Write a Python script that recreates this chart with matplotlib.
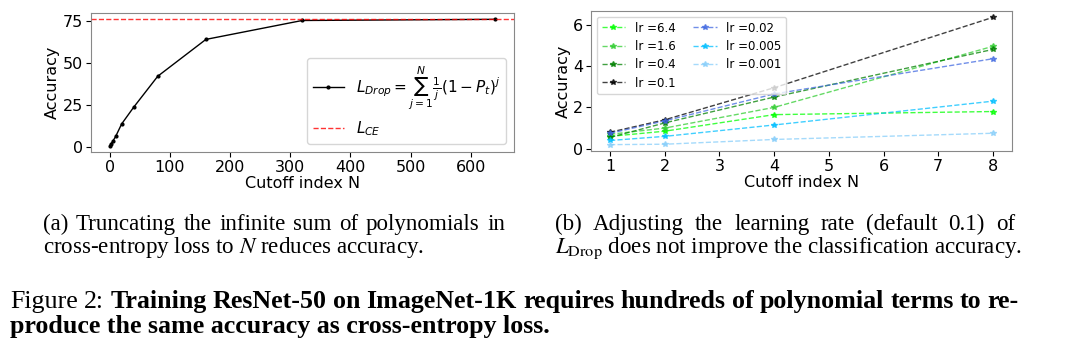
import numpy as np
import matplotlib
matplotlib.use("Agg")
import matplotlib.pyplot as plt

# (a) truncated sum
cutoff_n = [1, 2, 5, 10, 20, 40, 80, 160, 320, 640]
acc_drop = [0.5, 1.5, 3.0, 6.0, 13.5, 23.5, 42.0, 64.0, 75.3, 76.0]
acc_ce = 76.1

# (b) learning rates
cutoff_b = [1, 2, 4, 8]
lr_labels = ['lr =6.4', 'lr =1.6', 'lr =0.4', 'lr =0.1', 'lr =0.02', 'lr =0.005', 'lr =0.001']
lr_acc = [
    [0.6, 0.85, 1.65, 1.8],
    [0.7, 1.0, 2.0, 4.95],
    [0.55, 1.25, 2.5, 4.8],
    [0.8, 1.4, 2.95, 6.35],
    [0.75, 1.35, 2.65, 4.35],
    [0.4, 0.6, 1.15, 2.3],
    [0.2, 0.22, 0.45, 0.75],
]
lr_colors = ['lime', 'limegreen', 'green', 'black', 'royalblue', 'deepskyblue', 'lightskyblue']

fig = plt.figure(figsize=(10.8, 3.54), dpi=100)
W, H = 1080, 354
renderer = fig.canvas.get_renderer()

def box(l, t, r, b):
    return [l / W, 1 - b / H, (r - l) / W, (b - t) / H]

ax1 = fig.add_axes(box(91, 13, 514, 152))
ax1.plot(cutoff_n, acc_drop, color='black', marker='.', markersize=4, linewidth=1,
         label=r'$L_{Drop} = \sum_{j=1}^{N} \frac{1}{j}(1-P_t)^j$')
ax1.axhline(acc_ce, color='red', linestyle='--', linewidth=1, alpha=0.8, label=r'$L_{CE}$')
ax1.set_yticks([0, 25, 50, 75])
ax1.set_xlabel('Cutoff index N', fontsize=11.5, labelpad=1)
ax1.set_ylabel('Accuracy', fontsize=11.5, labelpad=2)
ax1.tick_params(labelsize=11.5, pad=2)
ax1.legend(loc='lower right', fontsize=11, borderaxespad=0.5)
for s in ax1.spines.values():
    s.set_color('#888888')

ax2 = fig.add_axes(box(591, 11, 1012, 151))
for vals, lab, c in zip(lr_acc, lr_labels, lr_colors):
    ax2.plot(cutoff_b, vals, linestyle='--', marker='*', markersize=4, linewidth=1,
             color=c, alpha=0.75, label=lab)
ax2.set_yticks([0, 2, 4, 6])
ax2.set_xlabel('Cutoff index N', fontsize=11.5, labelpad=1)
ax2.set_ylabel('Accuracy', fontsize=11.5, labelpad=2)
ax2.tick_params(labelsize=11.5, pad=2)
ax2.legend(loc='upper left', ncol=2, fontsize=8.5, columnspacing=1.5, labelspacing=0.45)
for s in ax2.spines.values():
    s.set_color('#888888')

serif = 'Liberation Serif'


def justify(words, x0, x1, y, size, weights=None):
    # spread words evenly between x0 and x1 (pixels), baseline y (pixels from top)
    if weights is None:
        weights = ['normal'] * len(words)
    texts = []
    widths = []
    for w, wt in zip(words, weights):
        t = fig.text(0, 1 - y / H, w, family=serif, fontsize=size, weight=wt,
                     va='baseline', math_fontfamily='stix')
        widths.append(t.get_window_extent(renderer).width)
        texts.append(t)
    gap = (x1 - x0 - sum(widths)) / (len(words) - 1)
    x = x0
    for t, wd in zip(texts, widths):
        t.set_x(x / W)
        x += wd + gap


cap = 16.6
justify('(a) Truncating the infinite sum of polynomials in'.split(), 43, 505, 230, cap)
fig.text(43 / W, 1 - 253 / H, r'cross-entropy loss to $N$ reduces accuracy.',
         family=serif, fontsize=cap, va='baseline', math_fontfamily='stix')
justify('(b) Adjusting the learning rate (default 0.1) of'.split(), 555, 1015, 230, cap)
fig.text(555 / W, 1 - 253 / H, r'$L_{\mathrm{Drop}}$ does not improve the classification accuracy.',
         family=serif, fontsize=cap, va='baseline', math_fontfamily='stix')

fig_words = ['Figure', '2:'] + 'Training ResNet-50 on ImageNet-1K requires hundreds of polynomial terms to re-'.split()
fig_weights = ['normal', 'normal'] + ['bold'] * (len(fig_words) - 2)
justify(fig_words, 10, 1019, 308, 18.7, fig_weights)
fig.text(10 / W, 1 - 333 / H, 'produce the same accuracy as cross-entropy loss.',
         family=serif, fontsize=18.7, va='baseline', weight='bold')

fig.savefig('out.png', dpi=100)
